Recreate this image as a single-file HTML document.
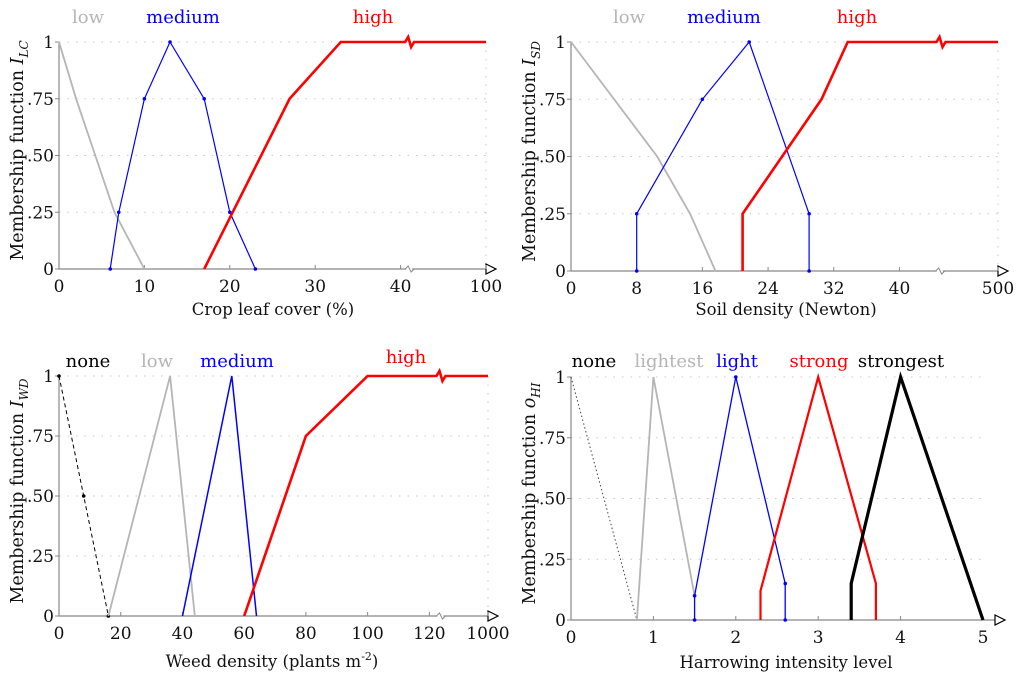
<!DOCTYPE html>
<html><head><meta charset="utf-8">
<style>
html,body{margin:0;padding:0;background:#fff;}
svg{display:block;font-family:"DejaVu Serif","Liberation Serif",serif;}
</style></head>
<body>
<svg id="chart" width="1024" height="682" viewBox="0 0 1024 682" xmlns="http://www.w3.org/2000/svg"></svg>
<script>
// ---- Panel 1: Crop leaf cover ----
const p1Ticks = [0,10,20,30,40,100];
const p1TickLabels = ["0","10","20","30","40","100"];
const p1LowX = [0,2,6.5,10];
const p1LowY = [1,0.75,0.25,0];
const p1MedX = [6,7,10,13,17,20,23];
const p1MedY = [0,0.25,0.75,1,0.75,0.25,0];
const p1HighX = [17,27,33,100];
const p1HighY = [0,0.75,1,1];
// ---- Panel 2: Soil density ----
const p2Ticks = [0,8,16,24,32,40,500];
const p2TickLabels = ["0","8","16","24","32","40","500"];
const p2LowX = [0,10.5,14.5,17.6];
const p2LowY = [1,0.5,0.25,0];
const p2MedX = [8,8,16,21.7,29,29];
const p2MedY = [0,0.25,0.75,1,0.25,0];
const p2HighX = [20.9,20.9,30.5,33.7,500];
const p2HighY = [0,0.25,0.75,1,1];
// ---- Panel 3: Weed density ----
const p3Ticks = [0,20,40,60,80,100,120,1000];
const p3TickLabels = ["0","20","40","60","80","100","120","1000"];
const p3NoneX = [0,8,16];
const p3NoneY = [1,0.5,0];
const p3LowX = [16,36,44];
const p3LowY = [0,1,0];
const p3MedX = [40,56,64];
const p3MedY = [0,1,0];
const p3HighX = [60,80,100,1000];
const p3HighY = [0,0.75,1,1];
// ---- Panel 4: Harrowing intensity ----
const p4Ticks = [0,1,2,3,4,5];
const p4TickLabels = ["0","1","2","3","4","5"];
const p4NoneX = [0,0.8];
const p4NoneY = [1,0];
const p4LightestX = [0.8,1,1.5];
const p4LightestY = [0,1,0.1];
const p4LightX = [1.5,1.5,2,2.6,2.6];
const p4LightY = [0,0.1,1,0.15,0];
const p4StrongX = [2.3,2.3,3,3.7,3.7];
const p4StrongY = [0,0.12,1,0.15,0];
const p4StrongestX = [3.4,3.4,4,5];
const p4StrongestY = [0,0.15,1,0];
const yTicks = [0,0.25,0.5,0.75,1];
const yTickLabels = ["0",".25",".50",".75","1"];

const svg = document.getElementById('chart');
const NS = 'http://www.w3.org/2000/svg';
function mk(tag, attrs, parent){
  const e = document.createElementNS(NS, tag);
  for (const k in attrs) e.setAttribute(k, attrs[k]);
  (parent||svg).appendChild(e);
  return e;
}

function panel(cfg){
  const g = mk('g', {});
  
  
  const ticks = cfg.ticks, n = ticks.length;
  const step = (cfg.x1 - cfg.x0) / (cfg.lastPos);
  // piecewise x scale: linear up to second-last tick, last tick at lastPos
  function xs(v){
    const lt = ticks[n-2], last = ticks[n-1];
    let p;
    if (v <= lt) p = v / cfg.unit;
    else p = lt / cfg.unit + (v - lt) / (last - lt) * (cfg.lastPos - lt / cfg.unit);
    return cfg.x0 + p * step;
  }
  function ys(v){ return cfg.yb - v * (cfg.yb - cfg.yt); }
  // grid
  yTicks.forEach(t => {
    if (t === 0) return;
    const l = mk('line', {x1:cfg.x0, x2:xs(ticks[n-1]), y1:ys(t), y2:ys(t), stroke:'#c8c8c8', 'stroke-width':1, 'stroke-dasharray':'1.5,7'}, g);
    
    
  });
  if (cfg.rightGrid){
    const l = mk('line', {x1:xs(ticks[n-1]), x2:xs(ticks[n-1]), y1:ys(1), y2:ys(0), stroke:'#c8c8c8', 'stroke-width':1, 'stroke-dasharray':'1.5,7'}, g);
    
    
  }
  // axes
  const ya = mk('line', {x1:cfg.x0, x2:cfg.x0, y1:ys(1), y2:ys(0), stroke:'#888', 'stroke-width':1.2}, g);
  
  
  const ax = cfg.axisEnd;
  const xa = mk('line', {x1:cfg.x0, x2:ax, y1:ys(0), y2:ys(0), stroke:'#888', 'stroke-width':1.2}, g);
  
  
  const arr = mk('path', {d:`M${ax},${ys(0)-5} L${ax+10},${ys(0)} L${ax},${ys(0)+5} Z`, fill:'#fff', stroke:'#000', 'stroke-width':1.2}, g);
  
  
  if (cfg.breakAt !== undefined){
    const bx = xs(cfg.breakAt), by = ys(0);
    mk('rect', {x:bx-3, y:by-2, width:6, height:4, fill:'#fff'}, g);
    const z = mk('path', {d:`M${bx-4},${by} L${bx-1},${by-3} L${bx+2},${by+3} L${bx+5},${by}`, fill:'none', stroke:'#888', 'stroke-width':1}, g);
    
    
  }
  // y tick labels
  yTicks.forEach((t,i) => {
    const tx = mk('text', {x:cfg.x0-5, y:ys(t)+6, 'text-anchor':'end', 'font-size':17, fill:'#111'}, g);
    tx.textContent = yTickLabels[i];
    
    
    mk('line', {x1:cfg.x0-4, x2:cfg.x0, y1:ys(t), y2:ys(t), stroke:'#888', 'stroke-width':1}, g);
  });
  // x tick labels
  ticks.forEach((t,i) => {
    mk('line', {x1:xs(t), x2:xs(t), y1:ys(0), y2:ys(0)-4, stroke:'#888', 'stroke-width':1}, g);
    const tx = mk('text', {x:xs(t), y:ys(0)+23, 'text-anchor':'middle', 'font-size':17, fill:'#111'}, g);
    tx.textContent = cfg.tickLabels[i];
    
    
  });
  // x title
  const xt = mk('text', {x:cfg.xTitleX, y:cfg.xTitleY, 'text-anchor':'middle', 'font-size':16.5, fill:'#111'}, g);
  xt.innerHTML = cfg.xTitle;
  
  
  // y title
  const yc = (ys(0)+ys(1))/2 - 5;
  const yt = mk('text', {x:0, y:0, transform:`translate(${cfg.x0-36},${yc}) rotate(-90)`, 'text-anchor':'middle', 'font-size':17.5, fill:'#111'}, g);
  yt.innerHTML = 'Membership function <tspan font-style="italic">' + cfg.ySym + '</tspan><tspan font-style="italic" font-size="12" dy="5">' + cfg.ySub + '</tspan>';
  
  
  // series
  cfg.series.forEach(s => {
    const pts = s.x.map((v,i) => xs(v).toFixed(1)+','+ys(s.y[i]).toFixed(1)).join(' ');
    const attrs = {points:pts, fill:'none', stroke:s.color, 'stroke-width':s.w, 'stroke-linejoin':'miter'};
    if (s.dash) attrs['stroke-dasharray'] = s.dash;
    const pl = mk('polyline', attrs, g);
    
    
    if (s.dots){
      s.x.forEach((v,i) => {
        const c = mk('circle', {cx:xs(v), cy:ys(s.y[i]), r:1.8, fill:s.color}, g);
        
        
      });
    }
    if (s.brk !== undefined){
      const bx = xs(s.brk), by = ys(1);
      mk('rect', {x:bx-3, y:by-3, width:7, height:6, fill:'#fff'}, g);
      const z = mk('path', {d:`M${bx-4},${by} L${bx-1},${by-5} L${bx+2},${by+5} L${bx+5},${by}`, fill:'none', stroke:s.color, 'stroke-width':s.w}, g);
      
      
    }
  });
  // legend labels
  cfg.labels.forEach(l => {
    const t = mk('text', {x:l.x, y:l.y, 'text-anchor':'middle', 'font-size':18, fill:l.color}, g);
    t.textContent = l.text;
    
    
  });
}

panel({name:'crop-leaf-cover-panel', x0:59, x1:486, unit:10, lastPos:5, ticks:p1Ticks, tickLabels:p1TickLabels,
  yt:42, yb:269, axisEnd:486, breakAt:(41-40)*6+40, rightGrid:true,
  xTitle:'Crop leaf cover (%)', xTitleX:273, xTitleY:315, ySym:'I', ySub:'LC',
  series:[
    {name:'low', x:p1LowX, y:p1LowY, color:'#b5b5b5', w:1.8},
    {name:'medium', x:p1MedX, y:p1MedY, color:'#0000ff', w:1.2, dots:true},
    {name:'high', x:p1HighX, y:p1HighY, color:'#ff0000', w:2.6, brk:46}
  ],
  labels:[{text:'low', x:88, y:23, color:'#b5b5b5'},{text:'medium', x:183, y:23, color:'#0000ff'},{text:'high', x:373, y:23, color:'#ff0000'}]
});
panel({name:'soil-density-panel', x0:571, x1:998, unit:8, lastPos:6.5, ticks:p2Ticks, tickLabels:p2TickLabels,
  yt:42, yb:271, axisEnd:998, breakAt:40+(45-40)/1*(460/12)*0+ (44.9-40)*(460/(52-40)) , rightGrid:true,
  xTitle:'Soil density (Newton)', xTitleX:786, xTitleY:315, ySym:'I', ySub:'SD',
  series:[
    {name:'low', x:p2LowX, y:p2LowY, color:'#b5b5b5', w:1.8},
    {name:'medium', x:p2MedX, y:p2MedY, color:'#0000ff', w:1.2, dots:true},
    {name:'high', x:p2HighX, y:p2HighY, color:'#ff0000', w:2.6, brk:40+(45-40)*(460/12)}
  ],
  labels:[{text:'low', x:629, y:23, color:'#b5b5b5'},{text:'medium', x:724, y:23, color:'#0000ff'},{text:'high', x:857, y:23, color:'#ff0000'}]
});
panel({name:'weed-density-panel', x0:59, x1:488, unit:20, lastPos:6.95, ticks:p3Ticks, tickLabels:p3TickLabels,
  yt:376, yb:616, axisEnd:488, breakAt:120+(3.6/19)*880, rightGrid:true,
  xTitle:'Weed density (plants m<tspan font-size="11" dy="-7">-2</tspan><tspan dy="7">)</tspan>', xTitleX:272, xTitleY:667, ySym:'I', ySub:'WD',
  series:[
    {name:'none', x:p3NoneX, y:p3NoneY, color:'#000', w:1, dash:'4,3', dots:true},
    {name:'low', x:p3LowX, y:p3LowY, color:'#b5b5b5', w:1.8},
    {name:'medium', x:p3MedX, y:p3MedY, color:'#0000ff', w:1.5},
    {name:'high', x:p3HighX, y:p3HighY, color:'#ff0000', w:2.6, brk:120+(3.6/19)*880}
  ],
  labels:[{text:'none', x:88, y:367, color:'#000'},{text:'low', x:157, y:367, color:'#b5b5b5'},{text:'medium', x:237, y:367, color:'#0000ff'},{text:'high', x:406, y:363, color:'#ff0000'}]
});
panel({name:'harrowing-intensity-panel', x0:571, x1:983, unit:1, lastPos:5, ticks:p4Ticks, tickLabels:p4TickLabels,
  yt:377, yb:620, axisEnd:995, rightGrid:false,
  xTitle:'Harrowing intensity level', xTitleX:786, xTitleY:668, ySym:'o', ySub:'HI',
  series:[
    {name:'none', x:p4NoneX, y:p4NoneY, color:'#444', w:1, dash:'1.5,2.5'},
    {name:'lightest', x:p4LightestX, y:p4LightestY, color:'#b5b5b5', w:1.8},
    {name:'light', x:p4LightX, y:p4LightY, color:'#0000ff', w:1.3, dots:true},
    {name:'strong', x:p4StrongX, y:p4StrongY, color:'#ff0000', w:2.2},
    {name:'strongest', x:p4StrongestX, y:p4StrongestY, color:'#000', w:3.2}
  ],
  labels:[{text:'none', x:594, y:367, color:'#000'},{text:'lightest', x:669, y:367, color:'#b5b5b5'},{text:'light', x:737, y:367, color:'#0000ff'},{text:'strong', x:819, y:367, color:'#ff0000'},{text:'strongest', x:901, y:367, color:'#000'}]
});
</script>
</body></html>
